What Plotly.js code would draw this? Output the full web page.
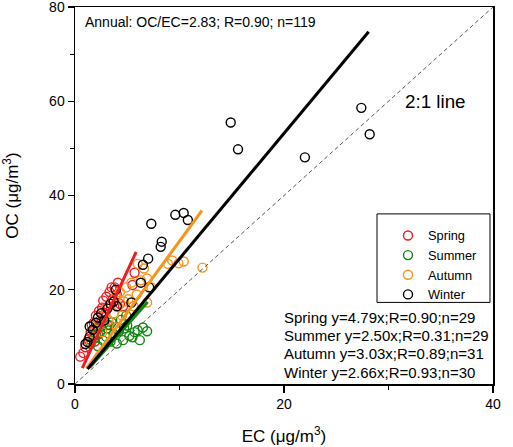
<!DOCTYPE html>
<html>
<head>
<meta charset="utf-8">
<script src="https://cdn.plot.ly/plotly-3.0.1.min.js"></script>
<style>html,body{margin:0;padding:0;background:#fff;}#chart{width:513px;height:447px;}</style>
</head>
<body>
<div id="chart"></div>
<script>
// ---- data (EC, OC in µg/m3) ----
const seasons = ["Spring", "Summer", "Autumn", "Winter"];
const springEC = [0.5,0.8,1.0,1.3,1.5,1.6,1.8,2.0,2.1,2.3,2.4,2.6,2.7,2.9,3.0,3.2,3.3,3.5,3.6,3.8,4.0,4.1,4.3,3.1,2.2,1.9,5.7,5.5,4.6];
const springOC = [5.8,6.6,7.8,9.5,11.0,12.5,13.0,14.5,12.0,15.5,13.5,16.2,17.7,15.0,18.5,16.5,19.5,20.5,18.0,20.5,19.0,21.5,17.0,12.5,10.5,9.0,23.6,21.0,16.5];
const summerEC = [1.5,1.8,2.0,2.2,2.4,2.5,2.7,2.8,3.0,3.1,3.3,3.4,3.5,3.7,3.9,4.0,4.2,4.4,4.6,4.7,5.0,5.2,5.5,5.7,6.0,6.2,6.5,6.9,4.9];
const summerOC = [8.5,9.6,10.5,8.0,11.0,12.2,9.2,13.0,10.0,11.8,12.5,9.0,13.1,10.6,12.0,8.6,11.2,13.6,9.3,11.8,12.4,10.2,9.9,11.0,11.4,9.3,12.0,11.2,14.5];
const autumnEC = [1.5,2.0,2.3,2.6,2.8,3.0,3.2,3.5,3.7,3.9,4.1,4.3,4.5,4.7,4.9,5.1,5.4,5.6,5.9,6.0,6.3,6.6,6.9,6.9,7.3,8.9,9.3,9.9,10.4,12.2,4.0];
const autumnOC = [9.0,11.5,13.0,11.0,14.5,16.0,13.5,17.0,15.0,18.5,16.5,19.5,14.5,17.5,20.5,18.0,21.5,16.5,19.0,25.5,22.0,24.5,17.3,22.4,20.5,25.5,26.2,25.6,26.0,24.7,12.0];
const winterEC = [1.0,1.2,1.4,1.4,1.7,2.0,2.2,2.5,2.8,3.1,3.4,3.7,4.0,5.4,6.3,7.1,6.5,7.0,7.3,8.2,8.3,9.6,10.4,10.8,14.9,15.6,22.0,27.4,28.2,3.9];
const winterOC = [8.5,8.9,10.0,12.2,11.5,13.0,14.1,15.0,13.5,16.0,17.0,17.5,16.5,17.3,21.5,20.5,25.3,26.6,34.0,29.1,30.2,35.9,36.3,34.8,55.5,49.8,48.1,58.6,53.0,20.0];
// regression slopes and the EC span of each fitted line
const slopes = [4.79, 2.50, 3.03, 2.66];
const fitStart = [0.7, 1.4, 1.1, 1.2];
const fitEnd = [5.85, 6.95, 12.15, 28.1];
const statR = ["0.90", "0.31", "0.89", "0.93"];
const statN = [29, 29, 31, 30];
const ratioLine = [0, 40];  // 2:1 reference line (EC values)
const annualText = "Annual: OC/EC=2.83; R=0.90; n=119";

const colors = ["#ee1d23", "#0b8a0b", "#f7941d", "#000000"];
const ecs = [springEC, summerEC, autumnEC, winterEC];
const ocs = [springOC, summerOC, autumnOC, winterOC];
const FONT = "Liberation Sans, Arial, sans-serif";

const traces = [];
seasons.forEach((s, i) => {
  traces.push({
    type: "scatter", mode: "markers", name: s, x: ecs[i], y: ocs[i],
    marker: {symbol: "circle-open", size: 9, color: colors[i], line: {width: 1.4, color: colors[i]}},
    showlegend: true
  });
});
seasons.forEach((s, i) => {
  const xs = [fitStart[i], fitEnd[i]];
  traces.push({
    type: "scatter", mode: "lines", x: xs, y: xs.map(v => v * slopes[i]),
    line: {color: colors[i], width: 3}, showlegend: false, hoverinfo: "skip"
  });
});
traces.push({
  type: "scatter", mode: "lines", x: ratioLine, y: ratioLine.map(v => 2 * v),
  line: {color: "#555", width: 1, dash: "4px,3px"}, showlegend: false, hoverinfo: "skip"
});

const statY = [14.1, 10.3, 6.5, 2.5];
const annotations = [
  {x: 0.75, y: 76.8, xref: "x", yref: "y", xanchor: "left", yanchor: "middle", text: annualText, showarrow: false,
   font: {family: FONT, size: 14, color: "#000"}},
  {x: 31.4, y: 60, xref: "x", yref: "y", xanchor: "left", yanchor: "middle", text: "2:1 line", showarrow: false,
   font: {family: FONT, size: 18.8, color: "#000"}}
];
seasons.forEach((s, i) => {
  annotations.push({
    x: 19.8, y: statY[i], xref: "x", yref: "y", xanchor: "left", yanchor: "middle", showarrow: false,
    text: s + " y=" + slopes[i].toFixed(2) + "x;R=" + statR[i] + ";n=" + statN[i],
    font: {family: FONT, size: 15, color: "#000"}
  });
});

const axisFont = {family: FONT, size: 14, color: "#000"};
const layout = {
  width: 513, height: 447,
  margin: {l: 75, r: 20, t: 7, b: 63},
  paper_bgcolor: "#fff", plot_bgcolor: "#fff",
  font: {family: FONT, color: "#000"},
  xaxis: {
    range: [0, 40], dtick: 20, tick0: 0, showgrid: false, zeroline: false,
    showline: true, mirror: true, linecolor: "#000", linewidth: 1.5,
    ticks: "outside", ticklen: 7, tickwidth: 1.2, tickcolor: "#000", tickfont: axisFont,
    ticklabeloverflow: "allow",
    minor: {dtick: 10, ticks: "outside", ticklen: 4, tickwidth: 1.2, tickcolor: "#000", showgrid: false},
    title: {text: "EC (μg/m<sup>3</sup>)", font: {family: FONT, size: 17, color: "#000"}, standoff: 19}
  },
  yaxis: {
    range: [0, 80], dtick: 20, tick0: 0, showgrid: false, zeroline: false,
    showline: true, mirror: true, linecolor: "#000", linewidth: 1.5,
    ticks: "outside", ticklen: 6, tickwidth: 1.2, tickcolor: "#000", tickfont: axisFont,
    ticklabeloverflow: "allow",
    minor: {dtick: 10, ticks: "outside", ticklen: 4, tickwidth: 1.2, tickcolor: "#000", showgrid: false},
    title: {text: "OC (μg/m<sup>3</sup>)", font: {family: FONT, size: 17, color: "#000"}, standoff: 28}
  },
  showlegend: true,
  legend: {
    x: 0.7488, y: 0.4333, xanchor: "left", yanchor: "top",
    bgcolor: "rgba(0,0,0,0)", borderwidth: 0,
    font: {family: FONT, size: 12.8, color: "#000"}
  },
  shapes: [
    {type: "rect", xref: "paper", yref: "paper", x0: 0.7225, x1: 0.9928, y0: 0.2164, y1: 0.4512,
     line: {color: "#000", width: 1}, fillcolor: "rgba(0,0,0,0)"}
  ],
  annotations: annotations
};

Plotly.newPlot("chart", traces, layout, {displayModeBar: false, staticPlot: true});
</script>
</body>
</html>
